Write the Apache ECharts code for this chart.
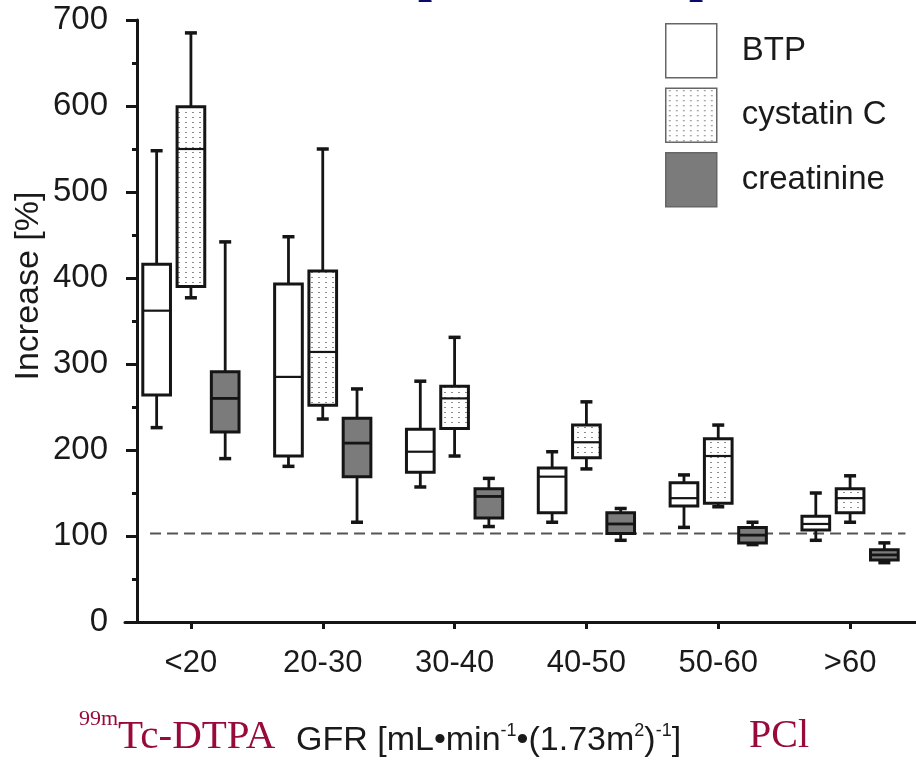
<!DOCTYPE html>
<html>
<head>
<meta charset="utf-8">
<script src="https://cdn.jsdelivr.net/npm/echarts@6/dist/echarts.min.js"></script>
<style>
  html, body { margin: 0; padding: 0; background: #fff; }
  #chart { width: 916px; height: 763px; }
</style>
</head>
<body>
<div id="chart"></div>
<script>
  // GFR classes
  var categories = ['<20', '20-30', '30-40', '40-50', '50-60', '>60'];
  // [min, q1, median, q3, max] per class
  var btp = [
    [226, 264, 362, 416, 548],
    [181, 193, 285, 393, 448],
    [157, 174, 198, 224, 280],
    [116, 127, 169, 179, 198],
    [110, 135, 144, 162, 171],
    [95, 107, 114, 123, 150]
  ];
  var cystatinC = [
    [377, 390, 550, 599, 685],
    [236, 252, 314, 408, 550],
    [193, 225, 260, 274, 331],
    [178, 191, 209, 229, 256],
    [134, 138, 193, 213, 229],
    [116, 127, 144, 155, 170]
  ];
  var creatinine = [
    [190, 221, 260, 291, 442],
    [116, 169, 208, 237, 271],
    [111, 121, 146, 155, 167],
    [95, 103, 114, 127, 132],
    [90, 92, 101, 110, 116],
    [69, 72, 78, 84, 92]
  ];
  var refValue = 103;
  var yTicks = { min: 0, max: 700, interval: 100 };

  var sans = "'Liberation Sans', Arial, sans-serif";
  var serif = "'Liberation Serif', 'Times New Roman', serif";
  var red = '#990a3c';
  var ink = '#151515';

  // dotted fill for cystatin C
  var dotCanvas = document.createElement('canvas');
  dotCanvas.width = 7;
  dotCanvas.height = 5;
  var dctx = dotCanvas.getContext('2d');
  dctx.fillStyle = '#fff';
  dctx.fillRect(0, 0, 7, 5);
  dctx.fillStyle = '#8c8c8c';
  dctx.fillRect(3, 2, 2, 1);
  var dotted = { image: dotCanvas, repeat: 'repeat' };

  var fills = ['#ffffff', dotted, '#7b7b7b'];
  var names = ['BTP', 'cystatin C', 'creatinine'];
  var sets = [btp, cystatinC, creatinine];
  var offsets = [-0.26, 0, 0.26];

  function toData(arr) {
    return arr.map(function (d, i) { return [i].concat(d); });
  }

  function boxRender(idx) {
    return function (params, api) {
      var cat = api.value(0);
      var band = api.size([1, 0])[0];
      var cx = api.coord([cat, 0])[0] + band * offsets[idx];
      var w = band * 0.21;
      var capW = 12;
      var y = [1, 2, 3, 4, 5].map(function (k) { return api.coord([cat, api.value(k)])[1]; });
      var stem = { stroke: ink, lineWidth: 2.8 };
      var cap = { stroke: ink, lineWidth: 3.5 };
      return {
        type: 'group',
        children: [
          { type: 'line', shape: { x1: cx, y1: y[0], x2: cx, y2: y[1] }, style: stem },
          { type: 'line', shape: { x1: cx, y1: y[3], x2: cx, y2: y[4] }, style: stem },
          { type: 'line', shape: { x1: cx - capW / 2, y1: y[0], x2: cx + capW / 2, y2: y[0] }, style: cap },
          { type: 'line', shape: { x1: cx - capW / 2, y1: y[4], x2: cx + capW / 2, y2: y[4] }, style: cap },
          { type: 'rect', shape: { x: cx - w / 2, y: y[3], width: w, height: y[1] - y[3] },
            style: { fill: fills[idx], stroke: ink, lineWidth: 3 } },
          { type: 'line', shape: { x1: cx - w / 2, y1: y[2], x2: cx + w / 2, y2: y[2] },
            style: { stroke: ink, lineWidth: idx === 2 ? 2.8 : 2.2 } }
        ]
      };
    };
  }

  var series = sets.map(function (arr, idx) {
    return {
      name: names[idx],
      type: 'custom',
      renderItem: boxRender(idx),
      itemStyle: { color: fills[idx], borderColor: '#666', borderWidth: 1.5 },
      encode: { x: 0, y: [1, 2, 3, 4, 5] },
      data: toData(arr),
      z: 3
    };
  });

  // dashed reference line
  series.push({
    type: 'custom',
    silent: true,
    z: 2,
    data: [[0, refValue]],
    encode: { x: 0, y: 1 },
    renderItem: function (params, api) {
      var band = api.size([1, 0])[0];
      var p0 = api.coord([0, api.value(1)]);
      var p1 = api.coord([categories.length - 1, api.value(1)]);
      return {
        type: 'line',
        shape: { x1: p0[0] - band * 0.31, y1: p0[1], x2: p1[0] + band * 0.42, y2: p1[1] },
        style: { stroke: '#555', lineWidth: 2, lineDash: [11, 6] }
      };
    }
  });

  // bottom axis caption, pieces laid out with measured widths
  var mctx = document.createElement('canvas').getContext('2d');
  function run(x0, pieces) {
    var x = x0;
    return pieces.map(function (p) {
      mctx.font = p.size + 'px ' + p.font;
      var el = {
        type: 'text', x: x, y: p.y,
        style: { text: p.t, fontSize: p.size, fontFamily: p.font, fill: p.color,
          align: 'left', verticalAlign: 'middle' }
      };
      x += mctx.measureText(p.t).width;
      return el;
    });
  }
  var caption = []
    .concat(run(79, [
      { t: '99m', font: serif, size: 22, color: red, y: 719 },
      { t: 'Tc-DTPA', font: serif, size: 41, color: red, y: 737 }
    ]))
    .concat(run(296, [
      { t: 'GFR [mL\u2022min', font: sans, size: 34, color: '#1a1a1a', y: 741 },
      { t: '-1', font: sans, size: 18, color: '#1a1a1a', y: 731 },
      { t: '\u2022(1.73m', font: sans, size: 34, color: '#1a1a1a', y: 741 },
      { t: '2', font: sans, size: 18, color: '#1a1a1a', y: 731 },
      { t: ')', font: sans, size: 34, color: '#1a1a1a', y: 741 },
      { t: '-1', font: sans, size: 18, color: '#1a1a1a', y: 731 },
      { t: ']', font: sans, size: 34, color: '#1a1a1a', y: 741 }
    ]))
    .concat(run(749, [
      { t: 'PCl', font: serif, size: 40, color: red, y: 736 }
    ]));

  var chart = echarts.init(document.getElementById('chart'), null, { renderer: 'canvas' });
  chart.setOption({
    animation: false,
    backgroundColor: '#fff',
    grid: { left: 125, right: 0, top: 20, bottom: 141, outerBoundsMode: 'none' },
    legend: {
      orient: 'vertical',
      left: 660,
      top: 18,
      icon: 'rect',
      itemWidth: 51,
      itemHeight: 54,
      itemGap: 9,
      selectedMode: false,
      textStyle: { fontSize: 33, fontFamily: sans, color: '#1a1a1a', padding: [0, 0, 0, 20] },
      data: names.map(function (n, i) {
        return { name: n, itemStyle: { color: fills[i], borderColor: '#666', borderWidth: 1.5 } };
      })
    },
    xAxis: {
      type: 'category',
      data: categories,
      axisLine: { show: true, lineStyle: { color: ink, width: 3 } },
      axisTick: { show: true, alignWithLabel: true, length: 7, lineStyle: { color: ink, width: 3 } },
      axisLabel: { fontSize: 31, fontFamily: sans, color: '#1a1a1a', margin: 26 },
      splitLine: { show: false }
    },
    yAxis: {
      type: 'value',
      min: yTicks.min,
      max: yTicks.max,
      interval: yTicks.interval,
      offset: -12,
      axisLine: { show: true, lineStyle: { color: ink, width: 3 } },
      axisTick: { show: true, length: 11, lineStyle: { color: ink, width: 3 } },
      minorTick: { show: true, splitNumber: 2, length: 5, lineStyle: { color: ink, width: 3 } },
      axisLabel: { fontSize: 33, fontFamily: sans, color: '#1a1a1a', margin: 29 },
      splitLine: { show: false }
    },
    graphic: [
      {
        type: 'text', x: 29, y: 286, rotation: Math.PI / 2,
        style: { text: 'Increase [%]', fontSize: 34, fontFamily: sans, fill: '#1a1a1a',
          align: 'center', verticalAlign: 'middle' }
      },
      // bottoms of the cut-off title line
      { type: 'text', x: 418, y: -22, style: { text: 'p', fontSize: 50, fontWeight: 'bold', fontFamily: serif, fill: '#0a0a6e', verticalAlign: 'middle' } },
      { type: 'text', x: 689, y: -22, style: { text: 'p', fontSize: 50, fontWeight: 'bold', fontFamily: serif, fill: '#0a0a6e', verticalAlign: 'middle' } }
    ].concat(caption),
    series: series
  });
</script>
</body>
</html>
